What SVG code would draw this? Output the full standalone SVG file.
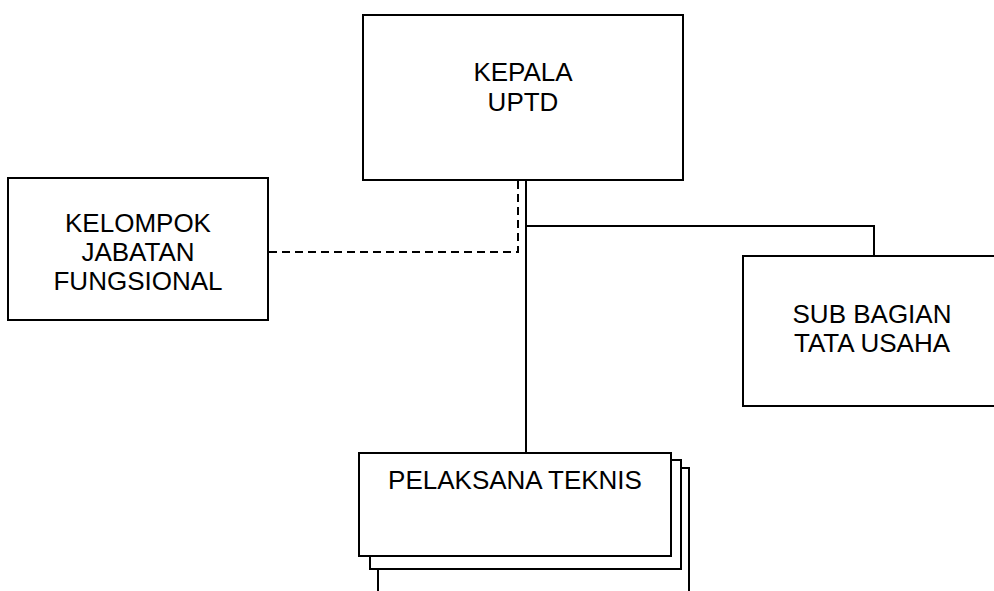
<svg xmlns="http://www.w3.org/2000/svg" width="994" height="591" viewBox="0 0 994 591">
<style>
.box{fill:#fff;stroke:#000;stroke-width:2}
.ln{fill:none;stroke:#000;stroke-width:2}
.dash{fill:none;stroke:#000;stroke-width:2;stroke-dasharray:8 5}
text{font-family:"Liberation Sans",Arial,sans-serif;font-size:26px;fill:#000;text-anchor:middle}
</style>
<rect width="994" height="591" fill="#fff"/>
<g id="connectors">
<path class="ln" d="M526 180 V453 M526 556 V573"/>
<path class="ln" d="M526 226 H874 V256"/>
<path class="dash" d="M518 181 V252 H268"/>
</g>
<g id="kepala">
<rect class="box" x="363" y="15" width="320" height="165"/>
<text x="523" y="81">KEPALA</text>
<text x="523" y="111">UPTD</text>
</g>
<g id="kelompok">
<rect class="box" x="8" y="178" width="260" height="142"/>
<text x="138" y="232">KELOMPOK</text>
<text x="138" y="261">JABATAN</text>
<text x="138" y="290">FUNGSIONAL</text>
</g>
<g id="subbagian">
<rect class="box" x="743" y="256" width="260" height="150"/>
<text x="872" y="323">SUB BAGIAN</text>
<text x="872" y="352">TATA USAHA</text>
</g>
<g id="pelaksana">
<rect class="box" x="378" y="468" width="311" height="140"/>
<rect class="box" x="370" y="460" width="311" height="109"/>
<rect class="box" x="359" y="453" width="312" height="103"/>
<text x="515" y="489">PELAKSANA TEKNIS</text>
</g>
</svg>
